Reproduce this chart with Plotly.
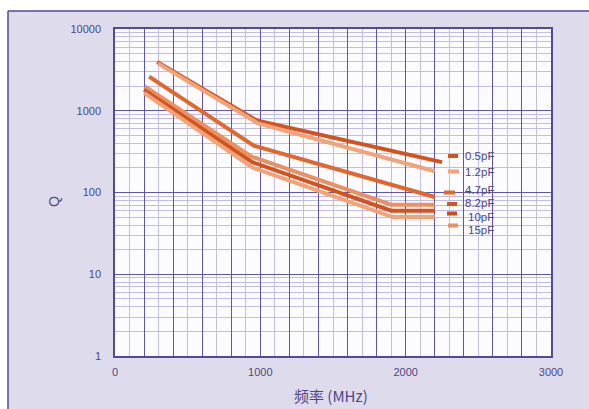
import plotly.graph_objects as go

# ---------------- data ----------------
series_names = ["0.5pF", "1.2pF", "4.7pF", "8.2pF", "10pF", "15pF"]

freq_05 = [290, 975, 2250]
q_05 = [3950, 760, 235]

freq_12 = [295, 985, 2200]
q_12 = [3800, 700, 182]

freq_47 = [235, 955, 2200]
q_47 = [2620, 374, 88]

freq_82 = [205, 940, 1900, 2200]
q_82 = [1980, 275, 71, 71]

freq_10 = [200, 945, 1900, 2200]
q_10 = [1800, 235, 60, 60]

freq_15 = [200, 950, 1910, 2200]
q_15 = [1650, 200, 50, 50]

x_tick_vals = [0, 1000, 2000, 3000]
y_tick_vals = [1, 10, 100, 1000, 10000]

# ---------------- style ----------------
DARK = "#d4521c"
LIGHT = "#efa47a"
MED = "#e0682e"
LIGHTMED = "#eb905e"
colors = [DARK, LIGHT, MED, LIGHTMED, DARK, LIGHT]
legend_colors = [DARK, LIGHT, MED, DARK, "#cf4a18", LIGHTMED]

PURPLE = "#544a92"
TXT = "#4e4588"
BG = "#dedcec"
MAJOR = "#5f56a0"
MINOR = "#c2bee0"

W, H = 589, 409
L, R, T, B = 115, 38, 29, 53
PW, PH = W - L - R, H - T - B


def px(x):
    return (x - L) / PW


def py(y):
    return (H - B - y) / PH


fig = go.Figure()
data = [(freq_05, q_05), (freq_12, q_12), (freq_47, q_47),
        (freq_82, q_82), (freq_10, q_10), (freq_15, q_15)]
for name, (f, q), c in zip(series_names, data, colors):
    fig.add_trace(go.Scatter(x=f, y=q, mode="lines", name=name,
                             line=dict(color=c, width=4),
                             showlegend=False, hoverinfo="skip"))

# x grid: majors every 200 with labels only at thousands
x_grid = list(range(0, 3001, 200))
x_text = [str(v) if v in x_tick_vals else "" for v in x_grid]

y_minor = [m * 10 ** d for d in range(0, 4) for m in range(2, 10)]

font_family = "Liberation Sans, Arial, sans-serif"

fig.update_xaxes(
    range=[0, 3000], tickmode="array", tickvals=x_grid, ticktext=x_text,
    showgrid=True, gridcolor=MAJOR, gridwidth=1.3,
    minor=dict(tickmode="array", tickvals=list(range(100, 3000, 200)),
               showgrid=True, gridcolor=MINOR, gridwidth=1),
    showline=True, linecolor=PURPLE, linewidth=1.5, mirror=True,
    zeroline=False, ticks="", ticklabelstandoff=5, automargin=False,
    tickfont=dict(family=font_family, size=11, color=TXT),
)
fig.update_yaxes(
    type="log", range=[0, 4], tickmode="array", tickvals=y_tick_vals,
    ticktext=[str(v) for v in y_tick_vals],
    showgrid=True, gridcolor=MAJOR, gridwidth=1.3,
    minor=dict(tickmode="array", tickvals=y_minor,
               showgrid=True, gridcolor=MINOR, gridwidth=1),
    showline=True, linecolor=PURPLE, linewidth=1.5, mirror=True,
    zeroline=False, ticks="", ticklabelstandoff=10, automargin=False,
    tickfont=dict(family=font_family, size=11, color=TXT),
)

shapes = []
# white area outside the frame, and frame lines
shapes.append(dict(type="rect", xref="paper", yref="paper",
                   x0=px(-10), x1=px(8), y0=py(500), y1=py(-10),
                   fillcolor="white", line=dict(width=0), layer="above"))
shapes.append(dict(type="rect", xref="paper", yref="paper",
                   x0=px(-10), x1=px(600), y0=py(11), y1=py(-10),
                   fillcolor="white", line=dict(width=0), layer="above"))
shapes.append(dict(type="line", xref="paper", yref="paper",
                   x0=px(8), x1=px(8), y0=py(11), y1=py(500),
                   line=dict(color=PURPLE, width=1.5), layer="above"))
shapes.append(dict(type="line", xref="paper", yref="paper",
                   x0=px(8), x1=px(600), y0=py(11), y1=py(11),
                   line=dict(color=PURPLE, width=1.5), layer="above"))

# custom legend
leg_marker_y = [156, 171.5, 192.5, 204, 213.5, 225.5]
leg_marker_x = [(448, 458), (448, 459), (444, 455), (447, 457), (447, 457), (448, 458)]
leg_text_y = [155.5, 171.5, 189.5, 203, 216.5, 229.5]
annotations = []
for name, c, my, (mx0, mx1), ty in zip(series_names, legend_colors, leg_marker_y,
                                       leg_marker_x, leg_text_y):
    shapes.append(dict(type="line", xref="paper", yref="paper",
                       x0=px(mx0), x1=px(mx1), y0=py(my), y1=py(my),
                       line=dict(color=c, width=4), layer="above"))
    annotations.append(dict(text=name, xref="paper", yref="paper",
                            x=px(496), y=py(ty), xanchor="right", yanchor="middle",
                            showarrow=False,
                            font=dict(family=font_family, size=11.5, color=TXT)))

annotations.append(dict(text="Q", xref="paper", yref="paper",
                        x=px(54), y=py(202), xanchor="center", yanchor="middle",
                        textangle=-90, showarrow=False,
                        font=dict(family=font_family, size=14, color=TXT)))
annotations.append(dict(text="频率 (MHz)", xref="paper", yref="paper",
                        x=px(331), y=py(395), xanchor="center", yanchor="middle",
                        showarrow=False,
                        font=dict(family="Noto Sans CJK SC", size=15, color=TXT)))

fig.update_layout(
    width=W, height=H,
    margin=dict(l=L, r=R, t=T, b=B, pad=0),
    paper_bgcolor=BG, plot_bgcolor="#fcfbff",
    shapes=shapes, annotations=annotations,
    showlegend=False,
)

fig.write_html("out.html")
